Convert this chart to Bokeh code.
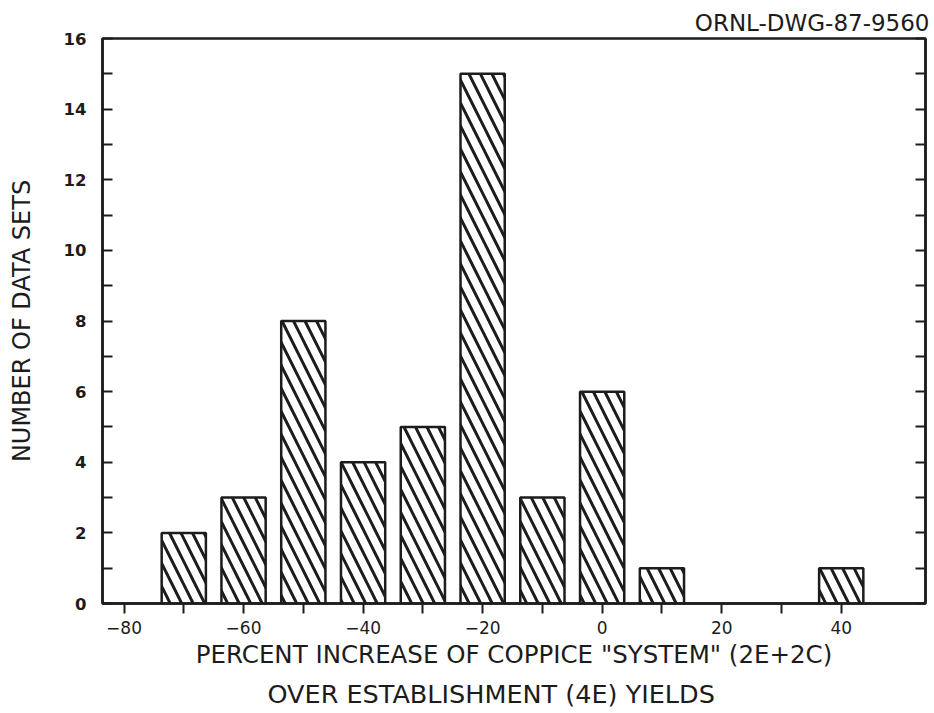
from bokeh.plotting import figure
from bokeh.models import FixedTicker, LinearAxis, Title, Range1d, CustomJSTickFormatter, ColumnDataSource
from bokeh.embed import file_html
from bokeh.resources import INLINE

# Histogram of percent yield increase, binned in 10% classes
bin_centers = [-70, -60, -50, -40, -30, -20, -10, 0, 10, 40]
counts = [2, 3, 8, 4, 5, 15, 3, 6, 1, 1]

x_major_ticks = [-80, -60, -40, -20, 0, 20, 40]
x_minor_ticks = [-70, -50, -30, -10, 10, 30]
y_major_ticks = [0, 2, 4, 6, 8, 10, 12, 14, 16]
y_minor_ticks = [1, 3, 5, 7, 9, 11, 13, 15]

INK = "#1c1c1c"
FONT = "DejaVu Sans"

p = figure(
    width=934, height=713,
    x_range=Range1d(-83.6, 54.1), y_range=Range1d(0, 16),
    output_backend="svg", toolbar_location=None,
    min_border_left=102, min_border_right=9, min_border_top=38, min_border_bottom=110,
    x_axis_location=None, y_axis_location=None,
)
p.grid.visible = False
p.background_fill_color = "white"
p.border_fill_color = "white"
p.outline_line_color = INK
p.outline_line_width = 2.5

src = ColumnDataSource(dict(x=bin_centers, top=counts))
p.vbar(x="x", top="top", bottom=0, width=7.4, source=src,
       fill_color="white", line_color=INK, line_width=2.5,
       hatch_pattern="\\", hatch_color=INK, hatch_weight=3, hatch_scale=23)

# bottom axis, ticks pointing outward
xaxis = LinearAxis(ticker=FixedTicker(ticks=x_major_ticks, minor_ticks=x_minor_ticks))
xaxis.axis_line_color = INK
xaxis.axis_line_width = 2.5
xaxis.major_tick_line_color = INK
xaxis.minor_tick_line_color = INK
xaxis.major_tick_line_width = 2
xaxis.minor_tick_line_width = 2
xaxis.major_tick_in = 0
xaxis.major_tick_out = 10
xaxis.minor_tick_in = 0
xaxis.minor_tick_out = 10
xaxis.major_label_standoff = 7
xaxis.major_label_text_font = FONT
xaxis.major_label_text_font_size = "17px"
xaxis.major_label_text_color = INK
xaxis.formatter = CustomJSTickFormatter(code="return tick < 0 ? '\u2212' + Math.abs(tick) : String(tick);")
xaxis.axis_label = 'PERCENT INCREASE OF COPPICE "SYSTEM" (2E+2C)'
xaxis.axis_label_text_font = FONT
xaxis.axis_label_text_font_style = "normal"
xaxis.axis_label_text_font_size = "24.5px"
xaxis.axis_label_text_color = INK
xaxis.axis_label_standoff = 3
p.add_layout(xaxis, "below")

# left axis, ticks pointing inward
yaxis = LinearAxis(ticker=FixedTicker(ticks=y_major_ticks, minor_ticks=y_minor_ticks))
yaxis.axis_line_color = INK
yaxis.axis_line_width = 2.5
yaxis.major_tick_line_color = INK
yaxis.minor_tick_line_color = INK
yaxis.major_tick_line_width = 2
yaxis.minor_tick_line_width = 2
yaxis.major_tick_in = 10
yaxis.major_tick_out = 0
yaxis.minor_tick_in = 10
yaxis.minor_tick_out = 0
yaxis.major_label_standoff = 16
yaxis.major_label_text_font = FONT
yaxis.major_label_text_font_style = "bold"
yaxis.major_label_text_font_size = "16.5px"
yaxis.major_label_text_color = INK
yaxis.axis_label = "NUMBER OF DATA SETS"
yaxis.axis_label_text_font = FONT
yaxis.axis_label_text_font_style = "normal"
yaxis.axis_label_text_font_size = "24px"
yaxis.axis_label_text_color = INK
yaxis.axis_label_standoff = 25
p.add_layout(yaxis, "left")

# right axis: tick marks only, pointing inward
raxis = LinearAxis(ticker=FixedTicker(ticks=y_major_ticks, minor_ticks=y_minor_ticks))
raxis.formatter = CustomJSTickFormatter(code="return '';")
raxis.axis_line_color = INK
raxis.axis_line_width = 2.5
raxis.major_tick_line_color = INK
raxis.minor_tick_line_color = INK
raxis.major_tick_line_width = 2
raxis.minor_tick_line_width = 2
raxis.major_tick_in = 10
raxis.major_tick_out = 0
raxis.minor_tick_in = 10
raxis.minor_tick_out = 0
raxis.major_label_standoff = 0
p.add_layout(raxis, "right")

# second line of the x-axis caption
sub = Title(text="OVER ESTABLISHMENT (4E) YIELDS", align="left", offset=165,
            text_font=FONT, text_font_style="normal", text_font_size="25.5px",
            text_color=INK, standoff=10, vertical_align="bottom")
p.add_layout(sub, "below")

# drawing number, top right
dwg = Title(text="ORNL-DWG-87-9560", align="right", offset=-4,
            text_font=FONT, text_font_style="normal", text_font_size="23px",
            text_color=INK, standoff=6)
p.add_layout(dwg, "above")

open("out.html", "w").write(file_html(p, INLINE))
